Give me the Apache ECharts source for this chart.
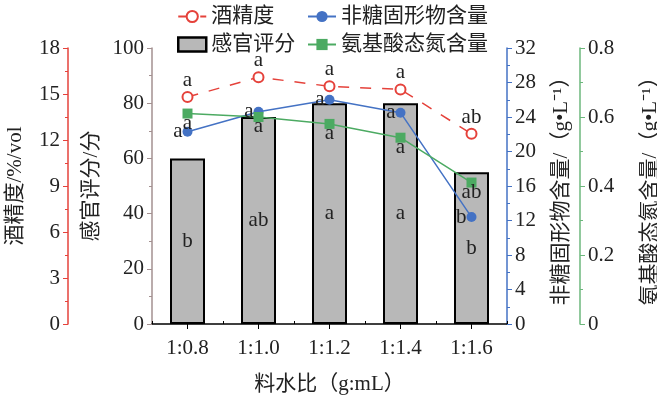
<!DOCTYPE html>
<html>
<head>
<meta charset="utf-8">
<script src="https://cdn.jsdelivr.net/npm/echarts@6/dist/echarts.min.js"></script>
<style>
  html, body { margin: 0; padding: 0; background: #fff; }
  #chart { width: 657px; height: 398px; }
</style>
</head>
<body>
<div id="chart"></div>
<script>
// 料水比
const categories = ['1:0.8', '1:1.0', '1:1.2', '1:1.4', '1:1.6'];
// 感官评分（柱）
const sensoryScore = [60, 75, 80, 80, 55];
const sensoryLetters = ['b', 'ab', 'a', 'a', 'b'];
// 酒精度 %vol
const alcohol = [14.8, 16.1, 15.5, 15.3, 12.4];
const alcoholLetters = ['a', 'a', 'a', 'a', 'ab'];
// 非糖固形物含量 g/L
const nonSugar = [22.3, 24.6, 26.0, 24.5, 12.4];
const nonSugarLetters = ['a', 'a', 'a', 'a', 'b'];
// 氨基酸态氮含量 g/L
const aminoN = [0.61, 0.60, 0.58, 0.54, 0.41];
const aminoLetters = ['a', 'a', 'a', 'a', 'ab'];

const FONT = "'Liberation Serif', 'Noto Sans CJK SC', serif";
const RED = '#e5423b';
const BLUE = '#4472c4';
const GREEN = '#4caa62';

const chart = echarts.init(document.getElementById('chart'));

function yAxisBase(opts) {
    return Object.assign({
        type: 'value',
        nameLocation: 'middle',
        nameRotate: 90,
        nameTextStyle: { fontFamily: FONT, fontSize: 21, color: '#222' },
        axisLabel: { fontFamily: FONT, fontSize: 21, color: '#222', margin: 8 },
        axisTick: { show: true, length: 5 },
        minorTick: { show: true, splitNumber: 2, length: 3 },
        splitLine: { show: false }
    }, opts);
}

function letterLabel(letters, position, extra) {
    return Object.assign({
        show: true,
        position: position,
        fontFamily: FONT,
        fontSize: 21,
        color: '#222',
        formatter: p => letters[p.dataIndex]
    }, extra || {});
}

const legendText = { fontFamily: FONT, fontSize: 21, color: '#222' };

const option = {
    backgroundColor: '#fff',
    animation: false,
    grid: { left: 152, right: 150, top: 48, bottom: 74, outerBoundsMode: 'none', containLabel: false },
    legend: [{
        orient: 'vertical',
        left: 172, top: 1,
        itemWidth: 28, itemHeight: 14, itemGap: 7,
        textStyle: legendText,
        data: ['酒精度', { name: '感官评分', icon: 'rect', itemStyle: { color: '#b8b8b8', borderColor: '#000', borderWidth: 2.5 } }]
    }, {
        orient: 'vertical',
        left: 302, top: 1,
        itemWidth: 28, itemHeight: 14, itemGap: 7,
        textStyle: legendText,
        data: ['非糖固形物含量', '氨基酸态氮含量']
    }],
    xAxis: [{
        type: 'category',
        data: categories,
        name: '料水比（g:mL）',
        nameLocation: 'middle',
        nameGap: 50,
        nameTextStyle: { fontFamily: FONT, fontSize: 21, color: '#222' },
        axisLine: { lineStyle: { color: '#000', width: 1.5 } },
        axisTick: { show: true, alignWithLabel: true, length: 5, lineStyle: { color: '#000' } },
        axisLabel: { fontFamily: FONT, fontSize: 21, color: '#222', margin: 14 }
    }, {
        // 分类边界处的短刻度
        type: 'category',
        data: categories,
        position: 'bottom',
        axisLine: { show: false },
        axisLabel: { show: false },
        axisTick: { show: true, inside: true, length: 3, lineStyle: { color: '#000' } }
    }],
    yAxis: [
        yAxisBase({
            name: '感官评分/分', position: 'left', offset: 0, nameGap: 50,
            min: 0, max: 100, interval: 20,
            axisLine: { show: true, lineStyle: { color: '#a39090', width: 1.5 } }
        }),
        yAxisBase({
            name: '酒精度/%/vol', position: 'left', offset: 84, nameGap: 42,
            min: 0, max: 18, interval: 3,
            axisLine: { show: true, lineStyle: { color: RED, width: 1.5 } }
        }),
        yAxisBase({
            name: '非糖固形物含量/（g•L⁻¹）', position: 'right', offset: 0, nameGap: 44,
            min: 0, max: 32, interval: 4,
            axisLine: { show: true, lineStyle: { color: BLUE, width: 1.5 } }
        }),
        yAxisBase({
            name: '氨基酸态氮含量/（g•L⁻¹）', position: 'right', offset: 73, nameGap: 60,
            min: 0, max: 0.8, interval: 0.2,
            axisLine: { show: true, lineStyle: { color: '#6cb77c', width: 1.5 } }
        })
    ],
    series: [{
        name: '感官评分',
        type: 'bar',
        yAxisIndex: 0,
        barWidth: 35,
        data: sensoryScore,
        itemStyle: { color: '#b8b8b8', borderColor: '#000', borderWidth: 2 },
        label: letterLabel(sensoryLetters, 'inside'),
        z: 1
    }, {
        name: '酒精度',
        type: 'line',
        yAxisIndex: 1,
        data: alcohol,
        symbol: 'emptyCircle',
        symbolSize: 10,
        lineStyle: { color: RED, width: 1.5, type: [11, 11] },
        itemStyle: { color: RED, borderWidth: 1.5 },
        label: letterLabel(alcoholLetters, 'top', { distance: 0 }),
        z: 3
    }, {
        name: '非糖固形物含量',
        type: 'line',
        yAxisIndex: 2,
        data: nonSugar,
        symbol: 'circle',
        symbolSize: 10,
        lineStyle: { color: BLUE, width: 1.5 },
        itemStyle: { color: BLUE },
        label: letterLabel(nonSugarLetters, 'left', { distance: 0 }),
        z: 3
    }, {
        name: '氨基酸态氮含量',
        type: 'line',
        yAxisIndex: 3,
        data: aminoN,
        symbol: 'rect',
        symbolSize: 10,
        lineStyle: { color: GREEN, width: 1.5 },
        itemStyle: { color: GREEN },
        label: letterLabel(aminoLetters, 'bottom', { distance: -6 }),
        z: 3
    }]
};

chart.setOption(option);
</script>
</body>
</html>
